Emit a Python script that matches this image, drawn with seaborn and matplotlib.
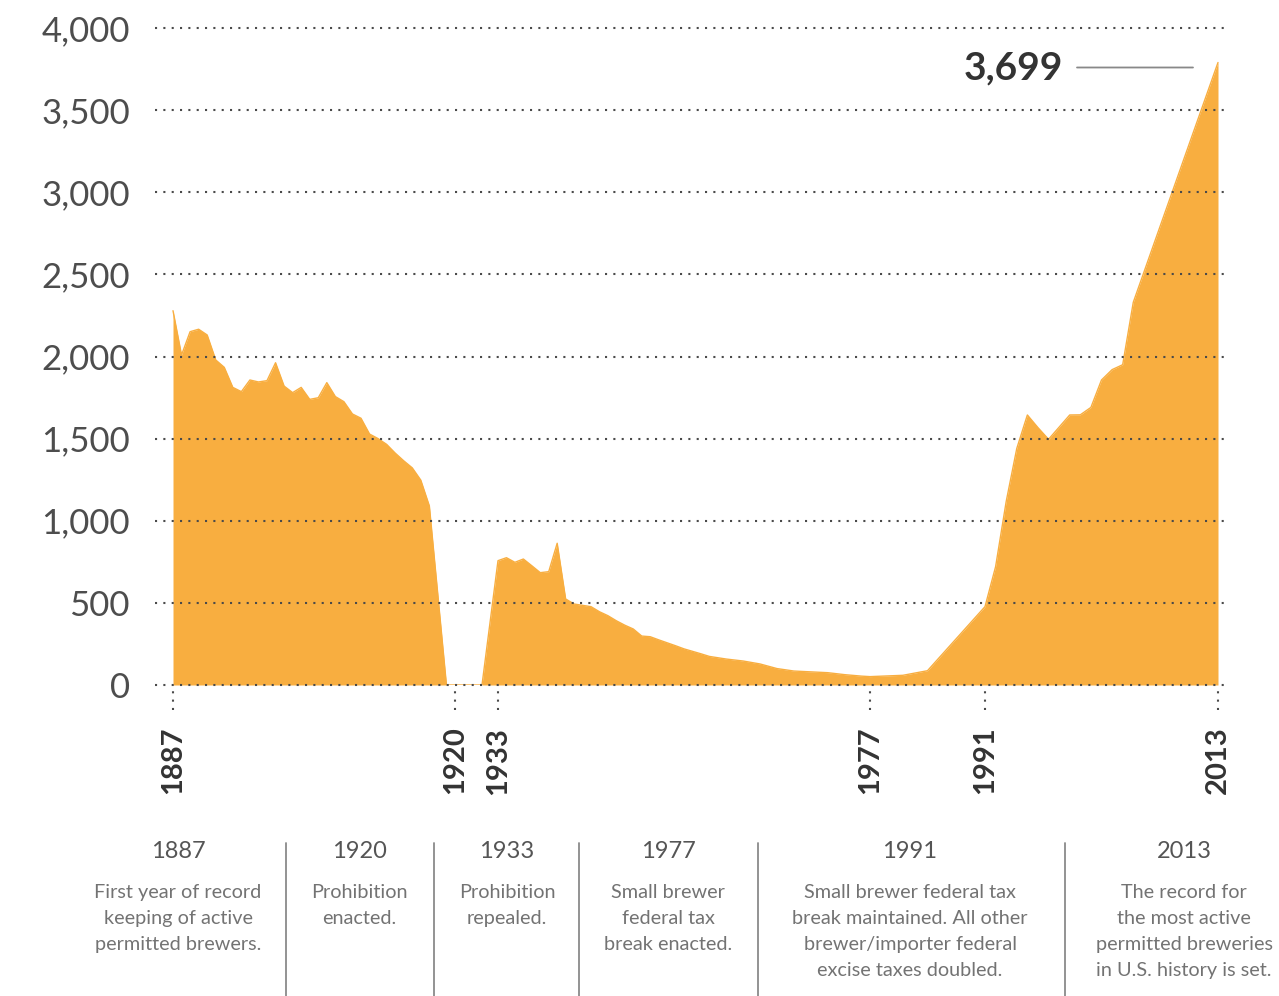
import numpy as np
import matplotlib
matplotlib.use("Agg")
import matplotlib.pyplot as plt
from matplotlib.transforms import offset_copy
import seaborn as sns

# ---------------- data ----------------
years = [1887, 1888, 1889, 1890, 1891, 1892, 1893, 1894, 1895, 1896,
         1897, 1898, 1899, 1900, 1901, 1902, 1903, 1904, 1905, 1906,
         1907, 1908, 1909, 1910, 1911, 1912, 1913, 1914, 1915, 1916,
         1917, 1919, 1920, 1932,
         1933, 1934, 1935, 1936, 1937, 1938, 1939, 1940, 1941, 1942,
         1943, 1944, 1945, 1946, 1947, 1948, 1949, 1950, 1951, 1952,
         1953, 1954, 1955, 1956, 1957, 1958, 1960, 1962, 1964, 1966,
         1968, 1970, 1972, 1974, 1976, 1977,
         1979, 1981, 1984, 1991,
         1992, 1993, 1994, 1995, 1996, 1997, 1998, 1999, 2000, 2001,
         2002, 2003, 2004, 2005, 2013]
breweries = [2279, 2009, 2151, 2166, 2131, 1979, 1934, 1812, 1786, 1857,
             1845, 1853, 1962, 1820, 1780, 1812, 1739, 1749, 1841, 1756,
             1725, 1650, 1624, 1528, 1500, 1465, 1412, 1365, 1322, 1247,
             1090, 0, 0, 0,
             757, 775, 747, 767, 726, 684, 690, 863, 524, 493,
             485, 477, 446, 422, 391, 364, 341, 298, 294, 275,
             257, 239, 220, 205, 190, 174, 158, 146, 128, 100,
             85, 80, 75, 63, 54, 51,
             55, 59, 87, 477,
             720, 1117, 1440, 1644, 1567, 1496, 1570, 1644, 1645, 1690,
             1857, 1920, 1950, 2330, 3790]

tick_years = [1887, 1920, 1933, 1977, 1991, 2013]
y_ticks = [0, 500, 1000, 1500, 2000, 2500, 3000, 3500, 4000]
y_tick_labels = ["0", "500", "1,000", "1,500", "2,000", "2,500", "3,000", "3,500", "4,000"]
record_label = "3,699"

caption_years = ["1887", "1920", "1933", "1977", "1991", "2013"]
caption_texts = [
    "First year of record\nkeeping of active\npermitted brewers.",
    "Prohibition\nenacted.",
    "Prohibition\nrepealed.",
    "Small brewer\nfederal tax\nbreak enacted.",
    "Small brewer federal tax\nbreak maintained. All other\nbrewer/importer federal\nexcise taxes doubled.",
    "The record for\nthe most active\npermitted breweries\nin U.S. history is set.",
]

# ---------------- layout (non-uniform time axis as drawn) ----------------
W, H = 1279, 996
axis_anchor_years = [1887, 1920, 1932, 1933, 1977, 1991, 2013]
axis_anchor_pos = [173, 455, 482, 498, 870, 985, 1218]
AY = np.array(axis_anchor_years, float)
AP = np.array(axis_anchor_pos, float)
s0 = (AP[1] - AP[0]) / (AY[1] - AY[0])
s1 = (AP[-1] - AP[-2]) / (AY[-1] - AY[-2])


def fwd(x):
    x = np.asarray(x, float)
    y = np.interp(x, AY, AP)
    y = np.where(x < AY[0], AP[0] + (x - AY[0]) * s0, y)
    y = np.where(x > AY[-1], AP[-1] + (x - AY[-1]) * s1, y)
    return y


def inv(p):
    p = np.asarray(p, float)
    y = np.interp(p, AP, AY)
    y = np.where(p < AP[0], AY[0] + (p - AP[0]) / s0, y)
    y = np.where(p > AP[-1], AY[-1] + (p - AP[-1]) / s1, y)
    return y


sns.set_style("white")
plt.rcParams["font.family"] = ["Lato", "DejaVu Sans"]

ORANGE = "#F8AE40"
DOT = (0, (1, 3))

fig = plt.figure(figsize=(W / 100, H / 100), dpi=100)
ax = fig.add_axes([155 / W, 1 - 685 / H, (1230 - 155) / W, (685 - 28) / H])
ax.set_xscale("function", functions=(fwd, inv))
ax.set_xlim(float(inv(155)), float(inv(1230)))
ax.set_ylim(0, 4000)

ax.fill_between(years, breweries, 0, color=ORANGE, lw=0, zorder=1)
sns.lineplot(x=years, y=breweries, ax=ax, color=ORANGE, lw=1, zorder=1.5,
             estimator=None, sort=False)

for s in ax.spines.values():
    s.set_visible(False)

ax.set_yticks(y_ticks)
ax.set_yticklabels(y_tick_labels, fontsize=25, fontweight="normal", color="#4d4d4d")
ax.tick_params(axis="y", length=0, pad=18)
ax.yaxis.grid(True, linestyle=DOT, linewidth=1.5, color="#4a4a4a")
ax.xaxis.grid(False)
ax.set_axisbelow(False)
for gl in ax.get_ygridlines():
    gl.set_clip_on(False)

ax.set_xticks(tick_years)
ax.set_xticklabels([str(y) for y in tick_years], rotation=90, fontsize=21,
                   fontweight="bold", color="#333333")
ax.tick_params(axis="x", length=0, pad=30)
ax.xaxis.set_minor_locator(matplotlib.ticker.NullLocator())
ax.vlines(tick_years, -150, 0, linestyles=DOT, colors="#4a4a4a",
          linewidth=1.5, clip_on=False)
ax.set_xlabel("")
ax.set_ylabel("")

# record annotation: label plus a horizontal leader line to the left of the peak
px, py = years[-1], breweries[-1]
ax.text(px, py, record_label,
        transform=offset_copy(ax.transData, fig=fig, x=-155, y=-5, units="dots"),
        ha="right", va="center", fontsize=28, fontweight="bold", color="#333333")
ax.annotate("", xy=(px, py), xycoords=offset_copy(ax.transData, fig=fig, x=-25, y=-5, units="dots"),
            xytext=(px, py), textcoords=offset_copy(ax.transData, fig=fig, x=-141, y=-5, units="dots"),
            arrowprops=dict(arrowstyle="-", color="#888888", lw=1.3, shrinkA=0, shrinkB=0))

# ---------------- captions ----------------
centers = [178, 359, 507, 668, 910, 1184]
for cx, yr, txt in zip(centers, caption_years, caption_texts):
    fig.text(cx / W, 1 - 851 / H, yr, ha="center", va="center",
             fontsize=17, fontweight="normal", color="#555555")
    fig.text(cx / W, 1 - 884 / H, txt, ha="center", va="top",
             fontsize=14.3, fontweight="normal", color="#737373",
             linespacing=1.64)

for sx in [286, 434, 579, 758, 1065]:
    fig.add_artist(plt.Line2D([sx / W, sx / W], [1 - 843 / H, 0],
                              transform=fig.transFigure, color="#8a8a8a", lw=1.3))

fig.savefig("out.png", dpi=100)
